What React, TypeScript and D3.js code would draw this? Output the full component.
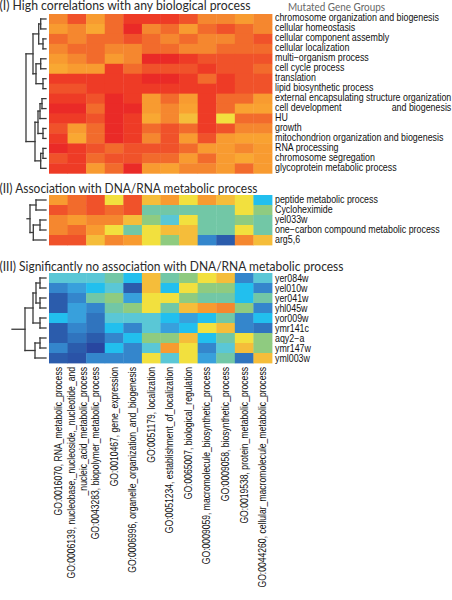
import React from 'react';
import * as d3 from 'd3';

// ---------- DATA ----------
const columnLabels: string[] = [
  "GO:0016070, RNA_metabolic_process",
  "GO:0006139, nucleobase,_nucleoside,_nucleotide_and|_nucleic_acid_metabolic_process",
  "GO:0043283, biopolymer_metabolic_process",
  "GO:0010467, gene_expression",
  "GO:0006996, organelle_organization_and_biogenesis",
  "GO:0051179, localization",
  "GO:0051234, establishment_of_localization",
  "GO:0065007, biological_regulation",
  "GO:0009059, macromolecule_biosynthetic_process",
  "GO:0009058, biosynthetic_process",
  "GO:0019538, protein_metabolic_process",
  "GO:0044260, cellular_macromolecule_metabolic_process",
];

const rowsI: string[] = [
  "chromosome organization and biogenesis",
  "cellular homeostasis",
  "cellular component assembly",
  "cellular localization",
  "multi\u2212organism process",
  "cell cycle process",
  "translation",
  "lipid biosynthetic process",
  "external encapsulating structure organization",
  "cell development|and biogenesis",
  "HU",
  "growth",
  "mitochondrion organization and biogenesis",
  "RNA processing",
  "chromosome segregation",
  "glycoprotein metabolic process",
];

const valuesI: number[][] = [
  [81, 91, 76, 86, 96, 96, 96, 91, 81, 81, 76, 81],
  [76, 81, 72, 86, 100, 81, 86, 76, 86, 91, 86, 81],
  [86, 81, 86, 86, 91, 86, 81, 86, 81, 81, 86, 91],
  [81, 86, 86, 81, 81, 86, 86, 81, 81, 86, 86, 86],
  [76, 81, 86, 76, 81, 100, 100, 96, 91, 91, 91, 91],
  [72, 76, 76, 96, 86, 91, 91, 91, 96, 91, 91, 86],
  [96, 96, 96, 96, 96, 100, 100, 96, 86, 96, 91, 91],
  [91, 91, 96, 96, 96, 96, 96, 96, 96, 96, 91, 91],
  [96, 96, 91, 100, 96, 76, 86, 76, 96, 86, 86, 76],
  [100, 100, 86, 100, 100, 76, 81, 74, 96, 86, 74, 74],
  [96, 96, 91, 100, 96, 72, 81, 68, 96, 62, 86, 86],
  [91, 76, 86, 100, 96, 86, 91, 86, 96, 91, 81, 81],
  [96, 72, 86, 100, 96, 81, 91, 76, 91, 76, 74, 74],
  [100, 96, 91, 86, 91, 91, 91, 86, 76, 76, 81, 76],
  [91, 96, 86, 91, 91, 86, 86, 76, 86, 76, 72, 76],
  [96, 96, 76, 86, 100, 76, 74, 81, 81, 76, 86, 76],
];

const rowsII: string[] = [
  "peptide metabolic process",
  "Cycloheximide",
  "yel033w",
  "one\u2212carbon compound metabolic process",
  "arg5,6",
];

const valuesII: number[][] = [
  [76, 86, 91, 62, 91, 68, 76, 62, 76, 68, 62, 30],
  [91, 86, 91, 86, 91, 46, 46, 46, 46, 46, 62, 54],
  [81, 76, 81, 81, 68, 54, 38, 62, 46, 46, 54, 46],
  [81, 86, 76, 62, 46, 62, 68, 68, 46, 46, 62, 46],
  [91, 91, 68, 81, 76, 62, 54, 68, 15, 5, 81, 68],
];

const rowsIII: string[] = [
  "yer084w", "yel010w", "yer041w", "yhl045w", "yor009w",
  "ymr141c", "aqy2\u2212a", "ymr147w", "yml003w",
];

const valuesIII: number[][] = [
  [38, 38, 38, 46, 30, 68, 46, 54, 62, 68, 15, 38],
  [15, 22, 30, 38, 5, 68, 30, 62, 54, 54, 30, 15],
  [5, 15, 46, 54, 22, 62, 62, 54, 46, 46, 30, 46],
  [5, 22, 15, 46, 54, 62, 46, 68, 76, 81, 54, 15],
  [30, 22, 10, 38, 38, 38, 30, 22, 30, 46, 15, 30],
  [5, 15, 10, 30, 15, 38, 22, 30, 62, 68, 15, 10],
  [5, 10, 5, 15, 30, 54, 54, 68, 30, 46, 62, 54],
  [15, 5, 0, 30, 15, 38, 76, 62, 15, 38, 68, 54],
  [5, 3, 15, 15, 15, 62, 38, 62, 22, 46, 10, 68],
];

// dendrograms: node = leaf index or {h: merge height, c: children}
type Node = number | { h: number; c: Node[] };
const treeI: Node = {
  h: 20, c: [
    { h: 13, c: [
      { h: 7.3, c: [{ h: 5.3, c: [0, 1] }, { h: 3, c: [2, 3] }] },
      { h: 10, c: [{ h: 5.3, c: [4, 5] }, { h: 3, c: [6, 7] }] },
    ] },
    { h: 11, c: [
      { h: 8, c: [{ h: 6, c: [{ h: 4, c: [8, 9] }, 10] }, { h: 3, c: [11, 12] }] },
      { h: 5.3, c: [{ h: 3, c: [13, 14] }, 15] },
    ] },
  ],
};
const treeII: Node = {
  h: 16, c: [{ h: 10, c: [0, 1] }, { h: 12.7, c: [{ h: 6, c: [2, 3] }, 4] }],
};
const treeIII: Node = {
  h: 21, c: [
    { h: 13, c: [{ h: 10, c: [{ h: 6, c: [0, 1] }, { h: 6, c: [2, 3] }] }, { h: 6, c: [4, 5] }] },
    { h: 11, c: [{ h: 6, c: [6, 7] }, 8] },
  ],
};

const titles: string[] = [
  "(I) High correlations with any biological process",
  "(II) Association with DNA/RNA metabolic process",
  "(III) Significantly no association with DNA/RNA metabolic process",
];
const legendTitle = "Mutated Gene Groups";

const colorStops = [0, 5, 10, 15, 22, 30, 38, 46, 54, 62, 68, 72, 76, 81, 86, 91, 96, 100];
const colorRange = [
  "#2846a0", "#2b5cac", "#3074be", "#3486cc", "#38a0dc", "#22bfee", "#5ac7d6",
  "#72c7a6", "#8fcb80", "#f2e03e", "#f5bd3a", "#f9a832", "#f89b30", "#f5872f",
  "#f26b2c", "#f0522a", "#ee3b26", "#ea2a27",
];

// ---------- LAYOUT ----------
const W = 452, H = 600;
const heatLeft = 49, heatRight = 272;
const labelX = 275;
const textScale = 0.887;
const colTextScale = 0.86;
const leafX = 46;

const color = d3.scaleLinear<string>().domain(colorStops).range(colorRange).interpolate(d3.interpolateRgb);
const xBand = d3.scaleBand<number>().domain(d3.range(12)).range([heatLeft, heatRight]);
const hScale = d3.scaleLinear().domain([0, 20]).range([leafX, 26]);

type Seg = [number, number, number, number];

function layoutTree(node: Node, yCenter: (i: number) => number, segs: Seg[]): { x: number; y: number } {
  if (typeof node === 'number') return { x: leafX, y: yCenter(node) };
  const kids = node.c.map((k) => layoutTree(k, yCenter, segs));
  const x = hScale(node.h);
  const y = (kids[0].y + kids[kids.length - 1].y) / 2;
  segs.push([x, kids[0].y, x, kids[kids.length - 1].y]);
  kids.forEach((k) => segs.push([x, k.y, k.x, k.y]));
  return { x, y };
}

interface SectionProps {
  top: number;
  bottom: number;
  rows: string[];
  values: number[][];
  tree: Node;
  stub: number;
  labelShift: number;
}

function Section({ top, bottom, rows, values, tree, stub, labelShift }: SectionProps) {
  const yBand = d3.scaleBand<number>().domain(d3.range(rows.length)).range([top, bottom]);
  const bw = yBand.bandwidth();
  const yc = (i: number) => (yBand(i) as number) + bw / 2;
  const segs: Seg[] = [];
  const root = layoutTree(tree, yc, segs);
  if (stub > 0) segs.push([root.x - stub, root.y, root.x, root.y]);
  return (
    <g>
      {values.map((row, r) =>
        row.map((v, c) => (
          <rect
            key={`${r}-${c}`}
            x={xBand(c)}
            y={yBand(r)}
            width={xBand.bandwidth() + 0.4}
            height={bw + 0.4}
            fill={color(v)}
          />
        ))
      )}
      {segs.map((s, i) => (
        <line key={i} x1={s[0]} y1={s[1]} x2={s[2]} y2={s[3]} stroke="#3a3a3a" strokeWidth={1.3} strokeLinecap="square" />
      ))}
      {rows.map((lab, r) => {
        const parts = lab.split('|');
        return (
          <text
            key={r}
            transform={`translate(${labelX},${yc(r) + labelShift}) scale(${textScale},1)`}
            dy="0.35em"
            fontFamily="'Liberation Sans', Arial, sans-serif"
            fontSize={10}
            fill="#111"
          >
            {parts[0]}
            {parts[1] ? <tspan x={(391.7 - labelX) / textScale}>{parts[1]}</tspan> : null}
          </text>
        );
      })}
    </g>
  );
}

export default function App() {
  const titleFont = "Lato, 'Open Sans', sans-serif";
  return (
    <div style={{ position: 'absolute', left: 0, top: 0, width: W, height: H, background: '#fff' }}>
      <svg width={W} height={H} viewBox={`0 0 ${W} ${H}`} style={{ display: 'block' }}>
        <rect width={W} height={H} fill="#fff" />
        <text x={-0.5} y={10} fontFamily={titleFont} fontSize={12.5} fill="#2a2a2a" textLength={251} lengthAdjust="spacingAndGlyphs">{titles[0]}</text>
        <text x={288} y={11} fontFamily={titleFont} fontSize={10.5} fill="#666" textLength={97} lengthAdjust="spacingAndGlyphs">{legendTitle}</text>
        <text x={-0.5} y={192.5} fontFamily={titleFont} fontSize={12.5} fill="#2a2a2a" textLength={258} lengthAdjust="spacingAndGlyphs">{titles[1]}</text>
        <text x={-0.5} y={270.5} fontFamily={titleFont} fontSize={12.5} fill="#2a2a2a" textLength={344} lengthAdjust="spacingAndGlyphs">{titles[2]}</text>

        <Section top={14} bottom={173.3} rows={rowsI} values={valuesI} tree={treeI} stub={0} labelShift={-1.3} />
        <Section top={195} bottom={245} rows={rowsII} values={valuesII} tree={treeII} stub={3} labelShift={-0.6} />
        <Section top={273} bottom={363} rows={rowsIII} values={valuesIII} tree={treeIII} stub={13} labelShift={0} />

        {columnLabels.map((lab, c) => {
          const cx = (xBand(c) as number) + xBand.bandwidth() / 2;
          const parts = lab.split('|');
          const offsets = parts.length > 1 ? [-5.3, 6.5] : [0];
          return (
            <text
              key={c}
              transform={`translate(${cx},367) rotate(-90) scale(${colTextScale},1)`}
              textAnchor="end"
              fontFamily="'Liberation Sans', Arial, sans-serif"
              fontSize={10}
              fill="#111"
            >
              {parts.map((p, i) => (
                <tspan key={i} x={0} y={offsets[i]} dy="0.35em">{p}</tspan>
              ))}
            </text>
          );
        })}
      </svg>
    </div>
  );
}
